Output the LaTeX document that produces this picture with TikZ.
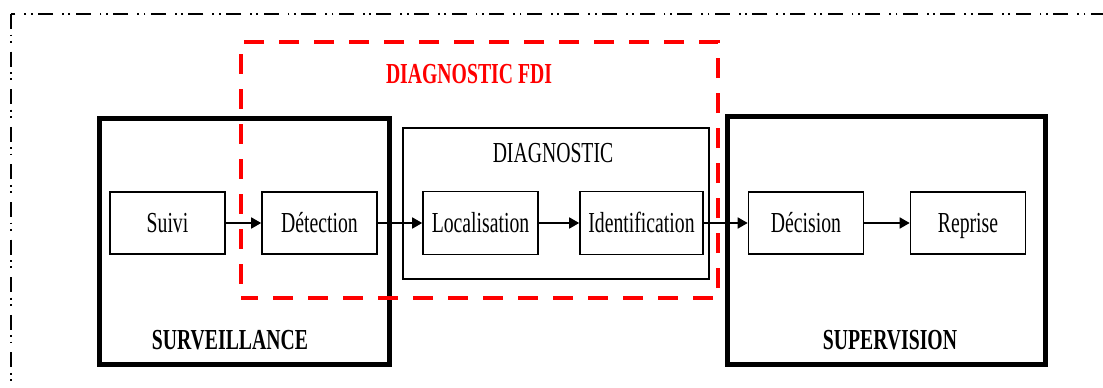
\documentclass[tikz,border=0pt]{standalone}
\usepackage{fontspec}
\setmainfont{Liberation Serif}[FakeStretch=0.68]
\usetikzlibrary{arrows.meta}
\definecolor{fdired}{RGB}{255,0,0}
\tikzset{
  every node/.style={font=\fontsize{29}{31}\selectfont},
  smallbox/.style={draw, line width=1.6pt, minimum width=115pt, minimum height=62pt, inner sep=0pt, text height=25pt, text depth=6pt},
  bigbox/.style={draw, line width=5pt, inner sep=0pt},
  diagbox/.style={draw, line width=2.4pt, inner sep=0pt},
  arr/.style={line width=1.6pt, -{Triangle[length=10pt,width=11pt]}},
  fdibox/.style={draw=fdired, line width=4pt, dash pattern=on 20pt off 15pt, dash phase=3pt},
  outer/.style={line width=1.5pt, dash pattern=on 15pt off 5.5pt on 1.8pt off 4.5pt on 1.8pt off 9pt},
  titlebold/.style={font=\fontsize{29}{31}\selectfont\bfseries},
}
\begin{document}
\begin{tikzpicture}[x=1pt,y=-1pt]
\useasboundingbox (0,0) rectangle (1103,388);
\begin{scope}
\clip (0,0) rectangle (1103,388);
\draw[outer] (11,14) rectangle (1130,420);
\end{scope}
% containers
\node[bigbox, minimum width=290pt, minimum height=246pt] (surv) at (244,241) {};
\node[bigbox, minimum width=318pt, minimum height=248pt] (superv) at (886,240) {};
\node[diagbox, minimum width=306pt, minimum height=151pt] (diag) at (556,203.5) {};
% labels
\node[titlebold] (survlabel) at (230,340) {SURVEILLANCE};
\node[titlebold] (supervlabel) at (890,340) {SUPERVISION};
\node (diaglabel) at (553,153) {DIAGNOSTIC};
% blocks
\node[smallbox] (suivi) at (167.5,223) {Suivi};
\node[smallbox] (detect) at (319.5,223) {Détection};
\node[smallbox, minimum height=63pt] (local) at (480.5,223) {Localisation};
\node[smallbox, minimum width=123pt, minimum height=63pt] (ident) at (641.5,223) {Identification};
\node[smallbox] (decis) at (806,223) {Décision};
\node[smallbox] (repr) at (968,223) {Reprise};
% arrows
\draw[arr] (suivi) -- (detect);
\draw[arr] (detect) -- (local);
\draw[arr] (local) -- (ident);
\draw[arr] (decis) -- (repr);
% red FDI box
\node[fdibox, minimum width=477pt, minimum height=256pt, inner sep=0pt] (fdi) at (479.5,170) {};
\draw[arr] (ident) -- (decis);
\node[titlebold, text=fdired] (fdilabel) at (469,74) {DIAGNOSTIC FDI};
\end{tikzpicture}
\end{document}
